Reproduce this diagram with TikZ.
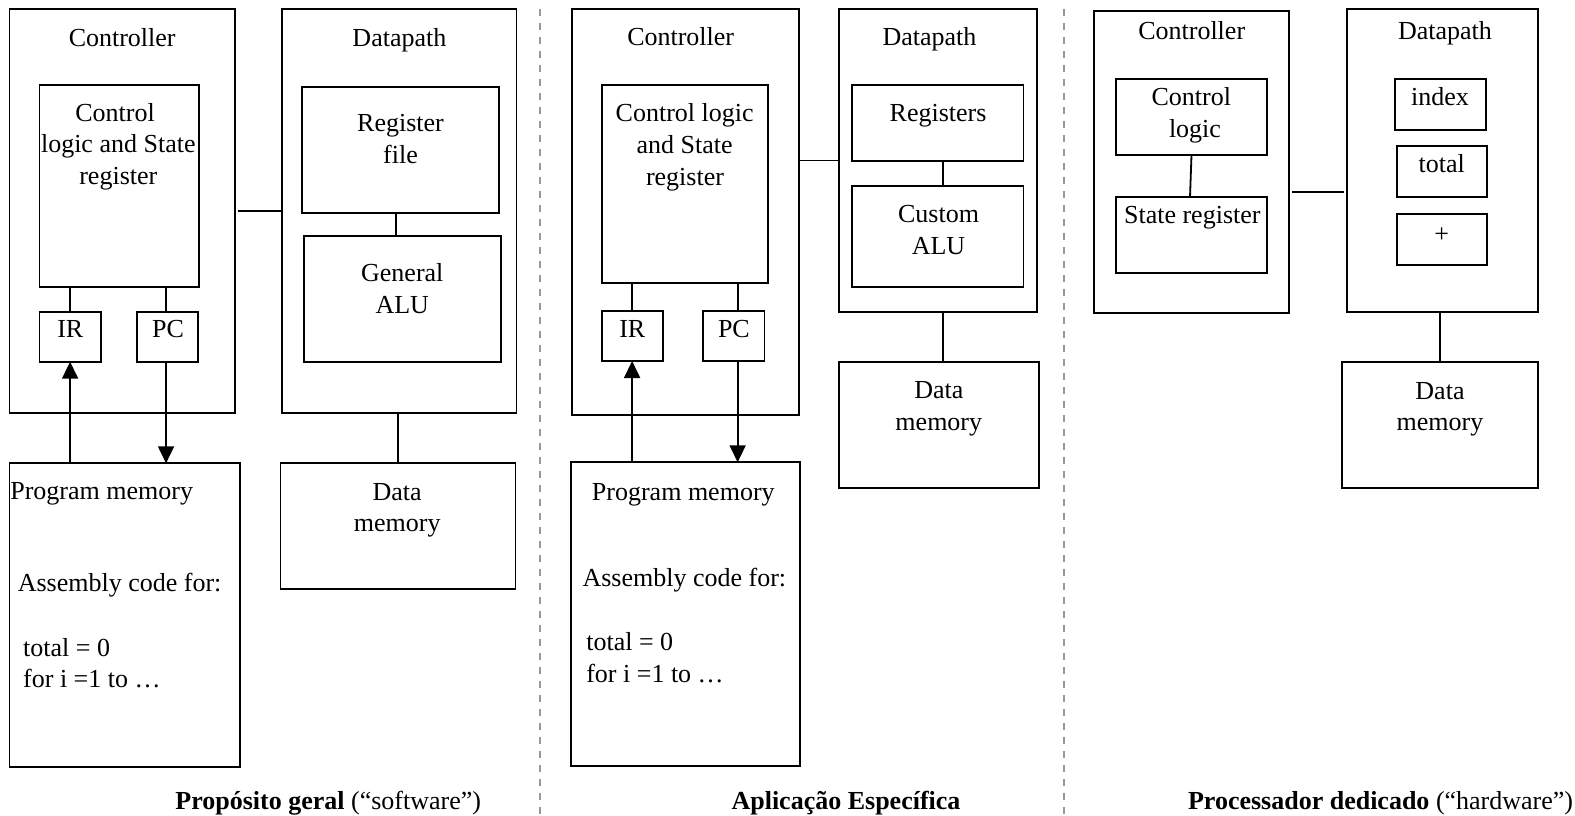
\documentclass[tikz,border=0pt]{standalone}
\usepackage{fontspec}
\setmainfont{Liberation Serif}
\usetikzlibrary{arrows.meta}

% rectangle node spanning (x1,y1)-(x2,y2), y growing downwards
\newcommand\blockat[5]{%
  \node[blk, minimum width={(#4-#2)*1pt}, minimum height={(#5-#3)*1pt}]
    (#1) at ({(#2+#4)/2},{(#3+#5)/2}) {};}

\tikzset{
  blk/.style={draw=black, line width=1.8pt, rectangle, inner sep=0pt, outer sep=0pt},
  conn/.style={draw=black, line width=1.8pt},
  arr/.style={conn, -{Triangle[length=17pt,width=16pt]}},
  txt/.style={inner sep=0pt, anchor=base, font=\fontsize{26}{31}\selectfont},
  ltxt/.style={txt, anchor=base west},
  sepline/.style={draw=black!40, line width=2pt, dash pattern=on 7pt off 7pt},
}

\begin{document}
\begin{tikzpicture}[x=1pt,y=-1pt]
\useasboundingbox (0,0) rectangle (1575,816);

% ---------------- separators ----------------
\draw[sepline] (540.3,9.3) -- (540.3,814);
\draw[sepline] (1063.8,9.3) -- (1063.8,814);

% ================ general purpose ================
\blockat{c1}{9.5}{9.3}{234.9}{412.7}
\blockat{cl1}{39.5}{85}{198.7}{286.7}
\blockat{ir1}{39.5}{311.7}{100.7}{361.7}
\blockat{pc1}{137.2}{311.7}{198.1}{361.7}
\blockat{dp1}{282.2}{9.3}{516.5}{412.7}
\blockat{rf1}{301.8}{86.7}{498.9}{212.7}
\blockat{alu1}{304.2}{236}{500.9}{362}
\blockat{pm1}{9.5}{463.3}{239.6}{766.7}
\blockat{dm1}{280.5}{463.3}{515.5}{589.3}

\node[txt] (c1t) at (122.2,46.7) {Controller};
\node[txt] (dp1t) at (399.4,46.7) {Datapath};
\node[txt] (cl1a) at (115,121.7) {Control};
\node[txt] (cl1b) at (118.3,152.7) {logic and State};
\node[txt] (cl1c) at (118.3,184.3) {register};
\node[txt] (rf1a) at (400.5,131.7) {Register};
\node[txt] (rf1b) at (400.5,163.3) {file};
\node[txt] (alu1a) at (402.3,281.7) {General};
\node[txt] (alu1b) at (402.3,313.3) {ALU};
\node[txt] (ir1t) at (70.3,337.3) {IR};
\node[txt] (pc1t) at (168,337.3) {PC};
\node[ltxt] (pm1t) at (10.1,499.3) {Program memory};
\node[txt] (dm1a) at (397.2,500) {Data};
\node[txt] (dm1b) at (397.2,531) {memory};
\node[ltxt] (pm1a) at (17.6,591.7) {Assembly code for:};
\node[ltxt] (pm1b) at (23,656) {total = 0};
\node[ltxt] (pm1c) at (23,687.3) {for i =1 to …};
\node[txt] (cap1) at (328.2,809.3) {\textbf{Propósito geral} (“software”)};

\draw[conn] ([xshift=3pt]c1.east) -- (dp1.west);
\draw[conn] (cl1.south -| ir1) -- (ir1.north);
\draw[conn] ([xshift=-1.6pt]cl1.south -| pc1) -- ([xshift=-1.6pt]pc1.north);
\draw[conn] ([xshift=-4pt]rf1.south) -- ([xshift=-4pt]rf1.south |- alu1.north);
\draw[conn] (dm1.north |- dp1.south) -- (dm1.north);
\draw[arr] (pm1.north -| ir1) -- (ir1.south);
\draw[arr] ([xshift=-1.6pt]pc1.south) -- ([xshift=-1.6pt]pc1.south |- pm1.north);

% ================ application specific ================
\blockat{c2}{571.7}{9.3}{798.6}{415}
\blockat{cl2}{601.6}{85}{767.6}{283.3}
\blockat{ir2}{601.6}{310.7}{662.6}{361}
\blockat{pc2}{703.2}{310.7}{764.5}{361}
\blockat{dp2}{838.9}{9.3}{1037.3}{311.7}
\blockat{rg2}{852}{85}{1023.5}{161}
\blockat{alu2}{852}{186}{1023.5}{286.7}
\blockat{pm2}{571.3}{462.3}{800.3}{765.7}
\blockat{dm2}{838.9}{362.3}{1039}{488.3}

\node[txt] (c2t) at (680.7,46) {Controller};
\node[txt] (dp2t) at (929.5,46) {Datapath};
\node[txt] (cl2a) at (684.7,121.7) {Control logic};
\node[txt] (cl2b) at (684.6,153.3) {and State};
\node[txt] (cl2c) at (685,185) {register};
\node[txt] (rg2t) at (938.1,121.7) {Registers};
\node[txt] (alu2a) at (938.6,222.7) {Custom};
\node[txt] (alu2b) at (938.5,254.3) {ALU};
\node[txt] (ir2t) at (632.3,337.3) {IR};
\node[txt] (pc2t) at (733.9,337.3) {PC};
\node[txt] (dm2a) at (938.8,398.3) {Data};
\node[txt] (dm2b) at (938.8,430.7) {memory};
\node[txt] (pm2t) at (683.3,500.7) {Program memory};
\node[ltxt] (pm2a) at (582.3,586.7) {Assembly code for:};
\node[ltxt] (pm2b) at (586.1,650) {total = 0};
\node[ltxt] (pm2c) at (586.1,682.7) {for i =1 to …};
\node[txt] (cap2) at (846,809.3) {\textbf{Aplicação Específica}};

\draw[conn] ([xshift=1.7pt]dp2.west -| c2.east) -- (dp2.west);
\draw[conn] (cl2.south -| ir2) -- (ir2.north);
\draw[conn] ([xshift=3.8pt]cl2.south -| pc2) -- ([xshift=3.8pt]pc2.north);
\draw[conn] ([xshift=5pt]rg2.south) -- ([xshift=5pt]rg2.south |- alu2.north);
\draw[conn] ([xshift=4pt]dm2.north |- dp2.south) -- ([xshift=4pt]dm2.north);
\draw[arr] (pm2.north -| ir2) -- (ir2.south);
\draw[arr] ([xshift=3.8pt]pc2.south) -- ([xshift=3.8pt]pc2.south |- pm2.north);

% ================ dedicated processor ================
\blockat{c3}{1094}{11}{1289.3}{312.7}
\blockat{cl3}{1115.7}{79}{1267.3}{155}
\blockat{sr3}{1115.7}{197.3}{1267.3}{273.3}
\blockat{dp3}{1346.7}{9.3}{1538.3}{311.7}
\blockat{ix3}{1395}{79.3}{1486}{130}
\blockat{tt3}{1396.7}{146}{1487.3}{196.7}
\blockat{ad3}{1396.7}{214.3}{1487.3}{265}
\blockat{dm3}{1342}{362.3}{1538.3}{488.3}

\node[txt] (c3t) at (1191.7,40) {Controller};
\node[txt] (dp3t) at (1445,40) {Datapath};
\node[txt] (cl3a) at (1191.3,106) {Control};
\node[txt] (cl3b) at (1195,137.3) {logic};
\node[txt] (sr3t) at (1192.3,223.3) {State register};
\node[txt] (ix3t) at (1440,106) {index};
\node[txt] (tt3t) at (1441.7,172.7) {total};
\node[txt] (ad3t) at (1441.7,242) {+};
\node[txt] (dm3a) at (1440,399) {Data};
\node[txt] (dm3b) at (1440,430.7) {memory};
\node[txt, anchor=base east] (cap3) at (1573.3,809.3) {\textbf{Processador dedicado} (“hardware”)};

\coordinate (h3) at (0,192);
\draw[conn] ([xshift=2.7pt]c3.east |- h3) -- ([xshift=-2.7pt]dp3.west |- h3);
\draw[conn] (cl3.south) -- ([xshift=-1.5pt]sr3.north);
\draw[conn] (dm3.north |- dp3.south) -- (dm3.north);

\end{tikzpicture}
\end{document}
